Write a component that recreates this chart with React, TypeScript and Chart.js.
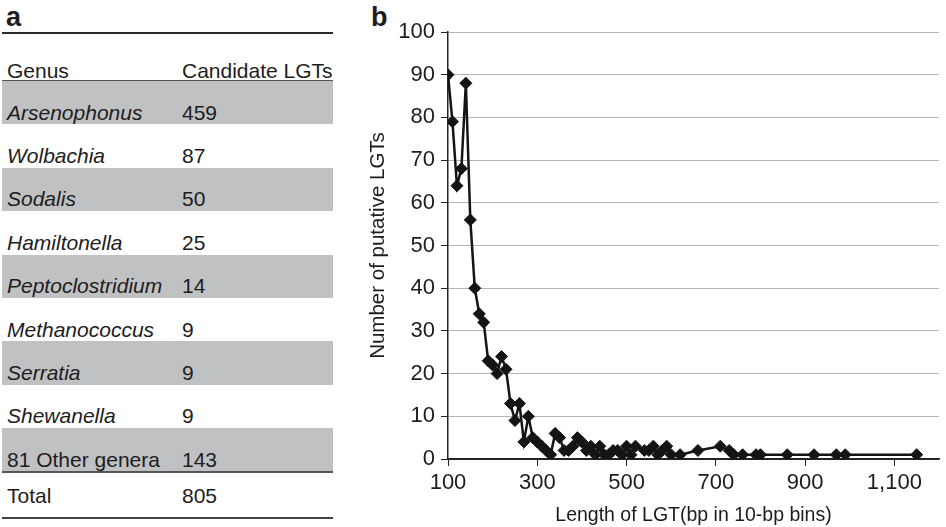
import React, { useEffect, useRef } from "react";
import { Chart, registerables } from "chart.js";

Chart.register(...registerables);

// ---- Panel a: table data ----
const genera = [
  "Arsenophonus",
  "Wolbachia",
  "Sodalis",
  "Hamiltonella",
  "Peptoclostridium",
  "Methanococcus",
  "Serratia",
  "Shewanella",
  "81 Other genera",
];
const candidateLGTs = [459, 87, 50, 25, 14, 9, 9, 9, 143];
const italicGenus = [true, true, true, true, true, true, true, true, false];
const totalLGTs = 805;

// ---- Panel b: chart data ----
const lengthBins = [
  100, 110, 120, 130, 140, 150, 160, 170, 180, 190, 200, 210, 220, 230, 240, 250,
  260, 270, 280, 290, 300, 310, 320, 330, 340, 350, 360, 370, 380, 390, 400, 410,
  420, 430, 440, 450, 460, 470, 480, 490, 500, 510, 520, 540, 550, 560, 570, 580,
  590, 600, 620, 660, 710, 730, 740, 760, 790, 800, 860, 920, 970, 990, 1150,
];
const putativeLGTs = [
  90, 79, 64, 68, 88, 56, 40, 34, 32, 23, 22, 20, 24, 21, 13, 9,
  13, 4, 10, 5, 4, 3, 2, 1, 6, 5, 2, 2, 3, 5, 4, 2,
  3, 1, 3, 1, 1, 2, 2, 1, 3, 1, 3, 2, 2, 3, 1, 2,
  3, 1, 1, 2, 3, 2, 1, 1, 1, 1, 1, 1, 1, 1, 1,
];
const xTickValues = [100, 300, 500, 700, 900, 1100];

const FONT = "'Liberation Sans', Arial, Helvetica, sans-serif";
const TEXT = "#1e1c1d";
const ROW_GREY = "#c0c1c3";

function LineChart() {
  const ref = useRef<HTMLCanvasElement | null>(null);
  useEffect(() => {
    if (!ref.current) return;
    const chart = new Chart(ref.current, {
      type: "line",
      data: {
        datasets: [
          {
            data: lengthBins.map((x, i) => ({ x, y: putativeLGTs[i] })),
            borderColor: "#141414",
            backgroundColor: "#141414",
            borderWidth: 2.5,
            pointStyle: "rectRot",
            pointRadius: 6,
            pointBorderWidth: 1,
            pointBackgroundColor: "#141414",
            pointBorderColor: "#141414",
            tension: 0,
          },
        ],
      },
      options: {
        responsive: false,
        animation: false,
        layout: { padding: { left: 0, top: 32, right: 1, bottom: 0 } },
        plugins: { legend: { display: false }, tooltip: { enabled: false } },
        scales: {
          x: {
            type: "linear",
            min: 100,
            max: 1200,
            afterBuildTicks: (scale: any) => {
              scale.ticks = xTickValues.map((v) => ({ value: v }));
            },
            afterFit: (scale: any) => {
              scale.height = 68;
            },
            grid: {
              drawOnChartArea: false,
              drawTicks: true,
              tickLength: 7,
              tickColor: "#222",
            },
            border: { color: "#222", width: 1.5 },
            ticks: {
              padding: 4,
              color: TEXT,
              font: { family: FONT, size: 22 },
              maxRotation: 0,
              callback: (v: any) => Number(v).toLocaleString("en-US"),
            },
            title: {
              display: true,
              text: "Length of LGT(bp in 10-bp bins)",
              color: TEXT,
              font: { family: FONT, size: 19.5 },
              padding: { top: 0, bottom: 0 },
            },
          },
          y: {
            min: 0,
            max: 100,
            afterFit: (scale: any) => {
              scale.width = 88;
            },
            grid: {
              color: (ctx: any) => (ctx.tick && ctx.tick.value === 0 ? "#222" : "#b5b5b5"),
              lineWidth: 1,
              tickLength: 7,
              tickColor: "#222",
            },
            border: { color: "#222", width: 1.5 },
            ticks: {
              stepSize: 10,
              padding: 6,
              color: TEXT,
              font: { family: FONT, size: 22 },
            },
            title: {
              display: true,
              text: "Number of putative LGTs",
              color: TEXT,
              font: { family: FONT, size: 20.5 },
              padding: { top: 6, bottom: 0 },
            },
          },
        },
      },
    });
    return () => chart.destroy();
  }, []);
  return <canvas ref={ref} width={586} height={527} />;
}

export default function App() {
  const rowTop = 81;
  const rowH = 43.4;
  const fs = 21;
  return (
    <div
      style={{
        position: "absolute",
        left: 0,
        top: 0,
        width: 946,
        height: 527,
        background: "#fff",
        fontFamily: FONT,
        color: TEXT,
        overflow: "hidden",
      }}
    >
      {/* Panel a */}
      <div style={{ position: "absolute", left: 6, top: 2, fontSize: 27, fontWeight: "bold", lineHeight: "30px" }}>a</div>
      <div style={{ position: "absolute", left: 2, top: 32, width: 331, height: 2, background: "#2a2a2a" }} />
      <div style={{ position: "absolute", left: 7, top: 60, fontSize: fs, lineHeight: `${fs}px` }}>Genus</div>
      <div style={{ position: "absolute", left: 182, top: 60, fontSize: fs, lineHeight: `${fs}px`, whiteSpace: "nowrap" }}>
        Candidate LGTs
      </div>
      {genera.map((g, i) => {
        const top = rowTop + i * rowH;
        return (
          <div key={g}>
            <div
              style={{
                position: "absolute",
                left: 2,
                top,
                width: 331,
                height: rowH,
                background: i % 2 === 0 ? ROW_GREY : "transparent",
              }}
            />
            <div
              style={{
                position: "absolute",
                left: 7,
                top: top + 20.5,
                fontSize: fs,
                lineHeight: `${fs}px`,
                fontStyle: italicGenus[i] ? "italic" : "normal",
                whiteSpace: "nowrap",
              }}
            >
              {g}
            </div>
            <div style={{ position: "absolute", left: 182, top: top + 20.5, fontSize: fs, lineHeight: `${fs}px` }}>
              {candidateLGTs[i]}
            </div>
          </div>
        );
      })}
      <div style={{ position: "absolute", left: 2, top: 80, width: 331, height: 1, background: "#555" }} />
      <div style={{ position: "absolute", left: 2, top: 471, width: 331, height: 1.5, background: "#555" }} />
      <div style={{ position: "absolute", left: 7, top: 484.5, fontSize: fs, lineHeight: `${fs}px` }}>Total</div>
      <div style={{ position: "absolute", left: 182, top: 484.5, fontSize: fs, lineHeight: `${fs}px` }}>{totalLGTs}</div>
      <div style={{ position: "absolute", left: 2, top: 517, width: 331, height: 1.5, background: "#444" }} />

      {/* Panel b */}
      <div style={{ position: "absolute", left: 371, top: 2, fontSize: 27, fontWeight: "bold", lineHeight: "30px" }}>b</div>
      <div style={{ position: "absolute", left: 360, top: 0, width: 586, height: 527 }}>
        <LineChart />
      </div>
    </div>
  );
}
